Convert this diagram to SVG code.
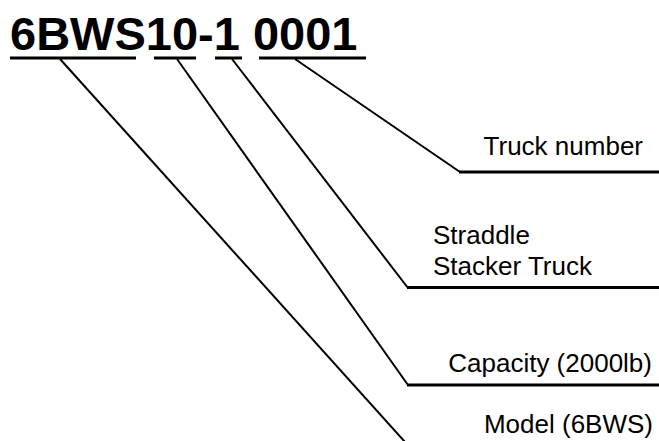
<svg xmlns="http://www.w3.org/2000/svg" width="659" height="441" viewBox="0 0 659 441">
<style>
.title{font-family:"Liberation Sans",Arial,sans-serif;font-weight:bold;font-size:47px;fill:#000}
.lbl{font-family:"Liberation Sans",Arial,sans-serif;font-size:26px;fill:#000}
.ul{stroke:#000;stroke-width:3;fill:none}
.diag{stroke:#000;stroke-width:2;fill:none}
.hz{stroke:#000;stroke-width:3;fill:none}
</style>
<rect width="659" height="441" fill="#fff"/>
<g id="code">
<text class="title" x="10" y="50">6BWS10-1 0001</text>
<line class="ul" x1="10" y1="58" x2="136" y2="58"/>
<line class="ul" x1="154" y1="58" x2="196" y2="58"/>
<line class="ul" x1="215" y1="58" x2="242" y2="58"/>
<line class="ul" x1="259" y1="58" x2="366" y2="58"/>
</g>
<g id="truck-number">
<text class="lbl" x="643" y="155" text-anchor="end">Truck number</text>
<line class="hz" x1="459" y1="172" x2="659" y2="172"/>
</g>
<g id="straddle">
<text class="lbl" x="433" y="244">Straddle</text>
<text class="lbl" x="433" y="275">Stacker Truck</text>
<line class="hz" x1="407" y1="287.5" x2="659" y2="287.5"/>
</g>
<g id="capacity">
<text class="lbl" x="652" y="372" text-anchor="end">Capacity (2000lb)</text>
<line class="hz" x1="407" y1="385" x2="659" y2="385"/>
</g>
<g id="model">
<text class="lbl" x="653" y="433" text-anchor="end">Model (6BWS)</text>
</g>
<g id="connectors">
<line class="diag" x1="60" y1="59" x2="405" y2="442"/>
<line class="diag" x1="177" y1="59" x2="408" y2="385"/>
<line class="diag" x1="232" y1="59" x2="408" y2="288"/>
<line class="diag" x1="295" y1="59" x2="460" y2="172"/>
</g>
</svg>
